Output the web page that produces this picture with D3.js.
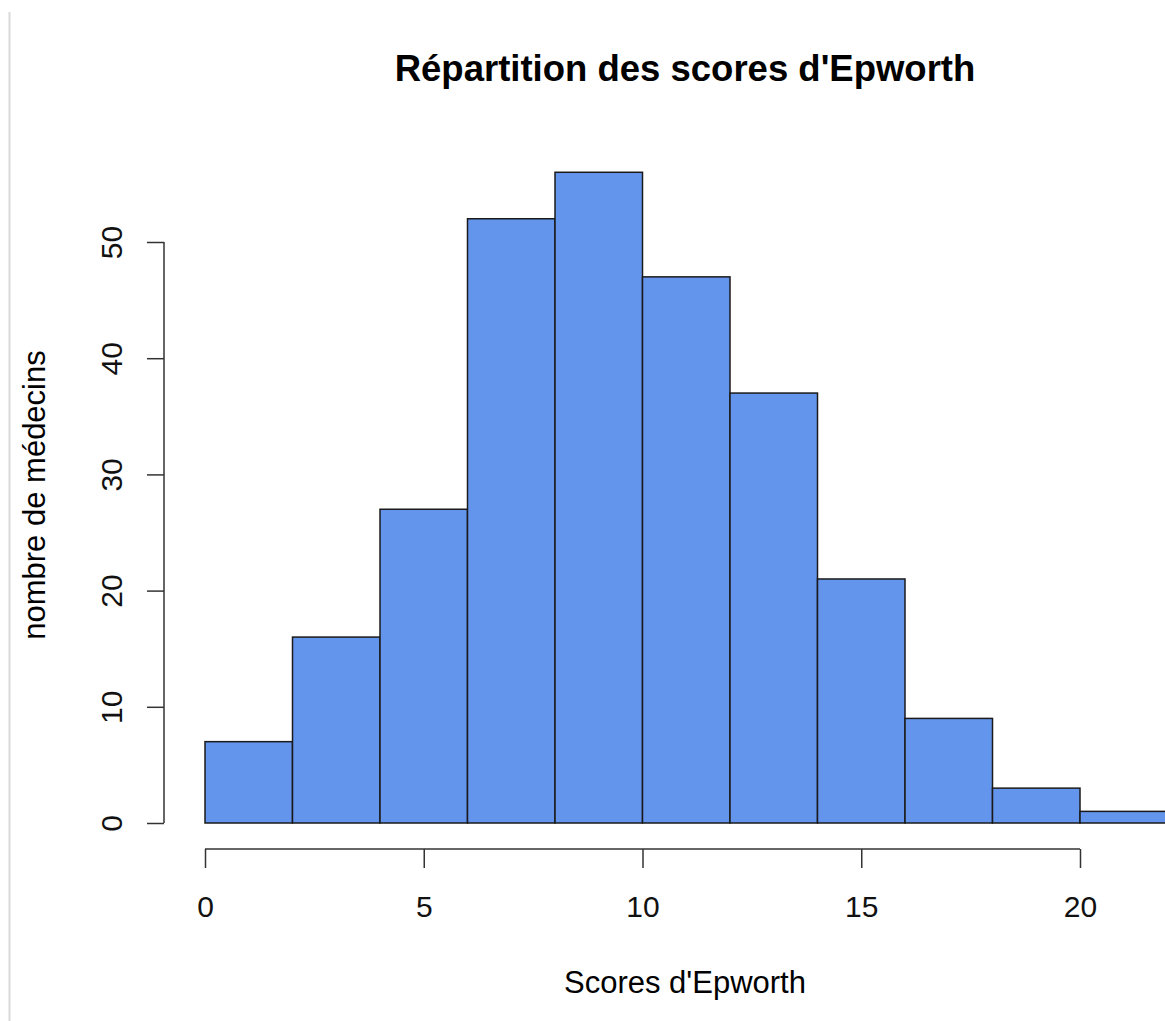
<!DOCTYPE html>
<html>
<head>
<meta charset="utf-8">
<script src="https://cdn.jsdelivr.net/npm/d3@7"></script>
<style>
  body { margin: 0; background: #fff; }
  svg { display: block; font-family: "Liberation Sans", Arial, sans-serif; }
</style>
</head>
<body>
<div id="chart"></div>
<script>
'use strict';

// histogram bins (score ranges) and counts
var binStarts = [0, 2, 4, 6, 8, 10, 12, 14, 16, 18, 20];
var binWidth = 2;
var counts = [7, 16, 27, 52, 56, 47, 37, 21, 9, 3, 1];
var xTicks = [0, 5, 10, 15, 20];
var yTicks = [0, 10, 20, 30, 40, 50];

var width = 1165, height = 1021;

var svg = d3.select("#chart").append("svg")
    .attr("width", width)
    .attr("height", height);

// thin grey frame line on the left
svg.append("line")
    .attr("x1", 9.5).attr("x2", 9.5)
    .attr("y1", 12).attr("y2", height)
    .attr("stroke", "#d9d9d9")
    .attr("stroke-width", 2);

var x = d3.scaleLinear().domain([0, 20]).range([205, 1080]);
var y = d3.scaleLinear().domain([0, 50]).range([823, 242]);

// bars
svg.selectAll(".bar")
    .data(binStarts)
    .enter().append("rect")
    .attr("class", "bar")
    .attr("x", function(d) { return x(d); })
    .attr("y", function(d, i) { return y(counts[i]); })
    .attr("width", function(d) { return x(d + binWidth) - x(d); })
    .attr("height", function(d, i) { return y(0) - y(counts[i]); })
    .attr("fill", "#6495ED")
    .attr("stroke", "#1a1a1a")
    .attr("stroke-width", 1.5);

// x axis (R style, offset below bars)
var xAxis = svg.append("g")
    .attr("transform", "translate(0,849)")
    .call(d3.axisBottom(x).tickValues(xTicks).tickSize(19).tickSizeOuter(0));
xAxis.select(".domain").attr("d", "M" + x(0) + ",0H" + x(20));
xAxis.selectAll(".tick text")
    .attr("y", 68)
    .attr("dy", 0);

// y axis
var yAxis = svg.append("g")
    .attr("transform", "translate(164,0)")
    .call(d3.axisLeft(y).tickValues(yTicks).tickSize(17).tickSizeOuter(0).tickFormat(d3.format("d")));
yAxis.select(".domain").attr("d", "M0," + y(0) + "V" + y(50));
yAxis.selectAll(".tick text")
    .attr("transform", "rotate(-90)")
    .attr("x", 0)
    .attr("y", -42)
    .attr("dy", 0)
    .style("text-anchor", "middle");

svg.selectAll(".tick text").style("font-size", "30px").style("fill", "#111");
svg.selectAll(".tick line, .domain").attr("stroke", "#333").attr("stroke-width", 1.5);

// title
svg.append("text")
    .attr("x", 685)
    .attr("y", 81)
    .style("text-anchor", "middle")
    .style("font-size", "36.5px")
    .style("font-weight", "bold")
    .text("Répartition des scores d'Epworth");

// x axis label
svg.append("text")
    .attr("x", 685)
    .attr("y", 993)
    .style("text-anchor", "middle")
    .style("font-size", "31px")
    .text("Scores d'Epworth");

// y axis label
svg.append("text")
    .attr("transform", "translate(45,495) rotate(-90)")
    .style("text-anchor", "middle")
    .style("font-size", "31px")
    .text("nombre de médecins");
</script>
</body>
</html>
